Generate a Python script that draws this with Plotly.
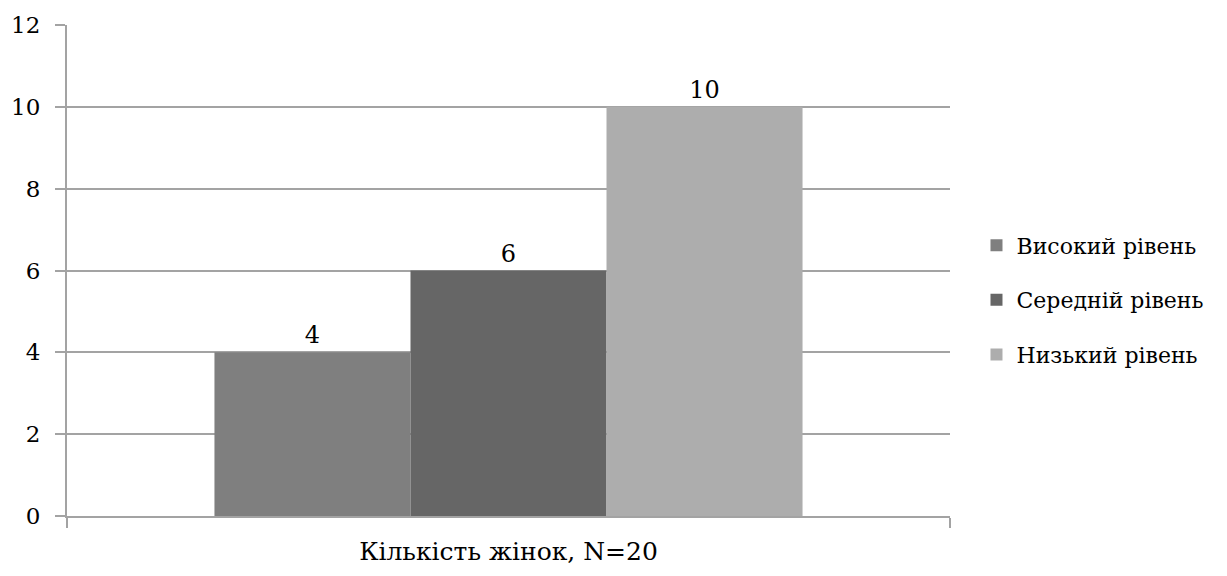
import plotly.graph_objects as go

category = ["Кількість жінок, N=20"]
series_names = ["Високий рівень", "Середній рівень", "Низький рівень"]
series_values = [4, 6, 10]
series_colors = ["#7f7f7f", "#666666", "#adadad"]
y_ticks = [0, 2, 4, 6, 8, 10, 12]

font_family = "DejaVu Serif"
axis_gray = "#a3a3a3"

fig = go.Figure()
for i, (name, val, col) in enumerate(zip(series_names, series_values, series_colors)):
    fig.add_trace(go.Bar(
        x=category, y=[val], name=name,
        marker=dict(color=col, line=dict(width=0)),
        text=[str(val)], textposition="outside",
        textfont=dict(family=font_family, size=24, color="#000000"),
        cliponaxis=False,
        legendgroup=f"g{i}",
    ))

fig.update_layout(
    width=1227, height=576,
    margin=dict(l=67, r=277, t=25, b=60, autoexpand=False),
    paper_bgcolor="white", plot_bgcolor="white",
    barmode="group", bargap=0.334, bargroupgap=0,
    font=dict(family=font_family, size=24, color="#000000"),
    showlegend=True,
    legend=dict(
        x=1.03, y=0.44, xanchor="left", yanchor="middle",
        font=dict(family=font_family, size=22, color="#000000"),
        tracegroupgap=23, itemwidth=30,
    ),
)

fig.update_xaxes(
    showline=True, linecolor=axis_gray, linewidth=2,
    ticks="outside", ticklen=10, tickcolor=axis_gray, tickwidth=2,
    tickson="boundaries", showgrid=False,
    ticklabelstandoff=12, automargin=False,
    tickfont=dict(family=font_family, size=25),
)
fig.update_yaxes(
    range=[0, 12], tickvals=y_ticks,
    showline=True, linecolor=axis_gray, linewidth=2,
    ticks="outside", ticklen=10, tickcolor=axis_gray, tickwidth=2,
    showgrid=True, gridcolor=axis_gray, gridwidth=2,
    zeroline=False,
    ticklabelstandoff=10, automargin=False,
    tickfont=dict(family=font_family, size=23),
)

fig.write_html("out.html")
